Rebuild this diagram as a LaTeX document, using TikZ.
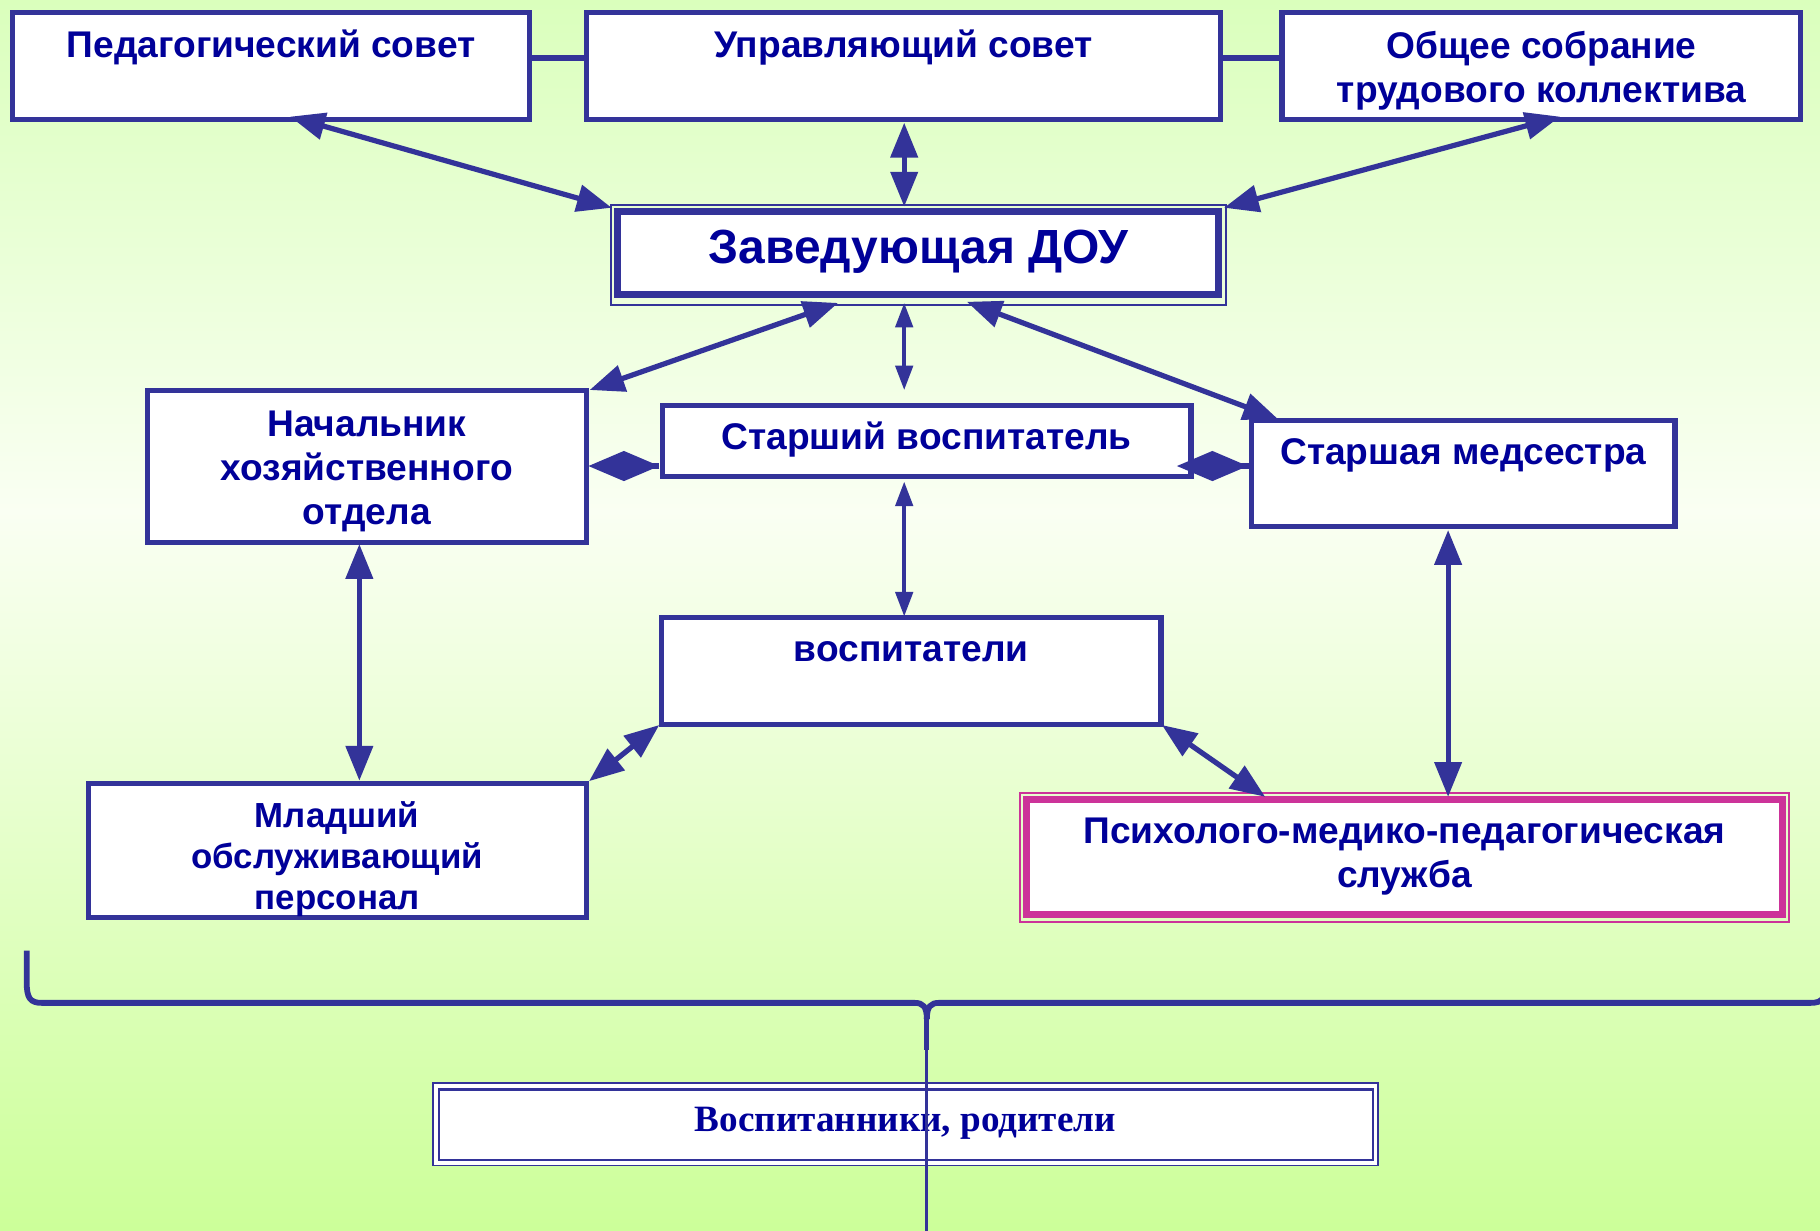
\documentclass[tikz,border=0pt]{standalone}
\usepackage{fontspec}
\setmainfont{Liberation Sans}
\newfontfamily\timesf{Liberation Serif}
\usetikzlibrary{arrows.meta,calc}
\definecolor{bord}{RGB}{51,51,153}
\definecolor{txtc}{RGB}{0,0,153}
\definecolor{mag}{RGB}{204,51,153}
\definecolor{bgtop}{RGB}{218,255,188}
\definecolor{bgmid}{RGB}{250,255,243}
\definecolor{bgbot}{RGB}{204,255,153}
\newcommand\lnstrut{\rule{0pt}{26pt}}
\begin{document}
\begin{tikzpicture}[x=1pt,y=-1pt,
  box/.style={draw=bord, line width=4.5pt, fill=white, inner sep=0pt, outer sep=0pt},
  frame/.style={draw=bord, line width=1.5pt, inner sep=0pt, outer sep=0pt},
  lbl/.style={text=txtc, font=\bfseries\fontsize{32}{38}\selectfont, align=center, inner sep=0pt},
  big/.style={draw=bord, line width=4.5pt, >={Triangle[length=30pt,width=23pt]}, <->},
  small/.style={draw=bord, line width=3pt, >={Triangle[length=21pt,width=15pt]}, <->},
  dia/.style={draw=bord, line width=4.5pt, >={Diamond[length=61pt,width=26pt]}, ->},
  brace/.style={draw=bord, line width=5pt}
]
\useasboundingbox (0,0) rectangle (1568,1060);
\shade[top color=bgtop, bottom color=bgmid] (0,0) rectangle (1568,441);
\shade[top color=bgmid, bottom color=bgbot] (0,440) rectangle (1568,1060);

% top row
\node[box, minimum width=446pt, minimum height=92pt] (ped) at (233.5,57) {};
\node[box, minimum width=546.5pt, minimum height=92pt] (upr) at (778.25,57) {};
\node[box, minimum width=447pt, minimum height=92pt] (obs) at (1328,57) {};
\draw[draw=bord, line width=4.5pt] ([yshift=7pt]ped.east) -- ([yshift=7pt]upr.west);
\draw[draw=bord, line width=4.5pt] ([yshift=7pt]upr.east) -- ([yshift=7pt]obs.west);

% head
\node[frame, minimum width=530pt, minimum height=86.2pt] (zav) at (791.5,219.7) {};
\node[box, line width=6pt, minimum width=518pt, minimum height=71.6pt] (zavin) at (791,218.2) {};

% middle
\node[box, minimum width=378pt, minimum height=130.9pt] (nach) at (316,401.95) {};
\node[box, minimum width=455.5pt, minimum height=60.9pt] (stv) at (798.25,379.95) {};
\node[box, minimum width=364.5pt, minimum height=91.2pt] (stm) at (1260.75,408.1) {};
\node[box, minimum width=430.3pt, minimum height=92.2pt] (vos) at (785.15,578.1) {};
\node[box, minimum width=429pt, minimum height=115.5pt] (mlad) at (290.5,732.75) {};
\node[frame, draw=mag, minimum width=662pt, minimum height=111.5pt] (psy) at (1210,738.75) {};
\node[box, draw=mag, line width=6pt, minimum width=651pt, minimum height=99pt] (psyin) at (1210,738.5) {};

% bottom box
\node[frame, fill=white, minimum width=814pt, minimum height=71pt] (vsp) at (780,968.5) {};
\node[frame, line width=2pt, fill=white, minimum width=805pt, minimum height=61pt] (vspin) at (780.5,969) {};

% arrows
\draw[big] ([xshift=16.5pt,yshift=2.5pt]ped.south) -- ([xshift=0.5pt,yshift=-2.4pt]zav.north west);
\draw[big] ([xshift=0.75pt,yshift=-2.7pt]upr.south) -- ([xshift=-12.5pt,yshift=-1.4pt]zav.north);
\draw[big] ([xshift=16pt,yshift=2.5pt]obs.south) -- ([xshift=-2pt,yshift=-2.4pt]zav.north east);
\draw[big] ([xshift=-69.5pt,yshift=1.8pt]zav.south) -- ([xshift=3pt,yshift=0.5pt]nach.north east);
\draw[small] ([xshift=-12.5pt,yshift=1.8pt]zav.south) -- ([xshift=-19.25pt,yshift=13.5pt]stv.north);
\draw[big] ([xshift=41.5pt,yshift=2.8pt]zav.south) -- ([xshift=22.5pt,yshift=1.5pt]stm.north west);
\draw[small] ([xshift=-19.25pt,yshift=-4.6pt]stv.south) -- ([xshift=-6.15pt,yshift=1pt]vos.north);
\draw[big] ([xshift=-6.4pt,yshift=-1.3pt]nach.south) -- ([xshift=19.1pt,yshift=2.4pt]mlad.north);
\draw[big] ([xshift=-2pt,yshift=-0.4pt]vos.south west) -- ([xshift=2.5pt,yshift=2pt]mlad.north east);
\draw[big] ([xshift=0.7pt,yshift=-0.4pt]vos.south east) -- ([xshift=-120pt,yshift=-3.5pt]psy.north);
\draw[big] ([xshift=-13.15pt,yshift=-2.9pt]stm.south) -- ([xshift=37.6pt,yshift=-3.5pt]psy.north);
\draw[dia] ([xshift=-2.5pt,yshift=-21.55pt]stv.west) -- ([xshift=2pt,yshift=0.45pt]nach.east);
\draw[dia] ([xshift=-2.5pt,yshift=6.6pt]stm.west) -- ([xshift=-12pt,yshift=-21.55pt]stv.east);

% texts
\node[lbl, anchor=base] (pedt) at (233.5,49.4) {Педагогический совет};
\node[lbl, anchor=base] (uprt) at (778.25,49.4) {Управляющий совет};
\node[lbl, anchor=north] (obst) at (1328,24) {\lnstrut Общее собрание\\трудового коллектива};
\node[lbl, font=\bfseries\fontsize{41.3}{48}\selectfont, anchor=base] (zavt) at (791.5,227) {Заведующая ДОУ};
\node[lbl, anchor=north] (nacht) at (316,349.5) {\lnstrut Начальник\\хозяйственного\\отдела};
\node[lbl, anchor=base] (stvt) at (798.25,387) {Старший воспитатель};
\node[lbl, anchor=base] (stmt) at (1260.75,400) {Старшая медсестра};
\node[lbl, anchor=base] (vost) at (785,570) {воспитатели};
\node[lbl, font=\bfseries\fontsize{30}{35.5}\selectfont, anchor=north] (mladt) at (290.5,686.3) {\lnstrut Младший\\обслуживающий\\персонал};
\node[lbl, anchor=north] (psyt) at (1210,700.7) {\lnstrut Психолого-медико-педагогическая\\служба};
\node[lbl, font=\timesf\bfseries\fontsize{32}{36}\selectfont, anchor=base] (vspt) at (780,975) {Воспитанники, родители};

% brace
\coordinate (brl) at (23,819);
\coordinate (brr) at (1573,819);
\coordinate (bcusp) at (798.5,878);
\coordinate (bend) at (798.5,1062);
\draw[brace] (brl) -- (23,846) .. controls (23,860) and (26,864) .. (36,864) -- (788,864) .. controls (795,864) and (798.5,867) .. (bcusp);
\draw[brace] (brr) -- (1573,846) .. controls (1573,860) and (1570,864) .. (1560,864) -- (809,864) .. controls (802,864) and (798.5,867) .. (bcusp);
\draw[draw=bord, line width=4.5pt] (bcusp) -- (798.5,905);
\draw[draw=bord, line width=2.8pt] (798.5,900) -- (bend);
\end{tikzpicture}
\end{document}
